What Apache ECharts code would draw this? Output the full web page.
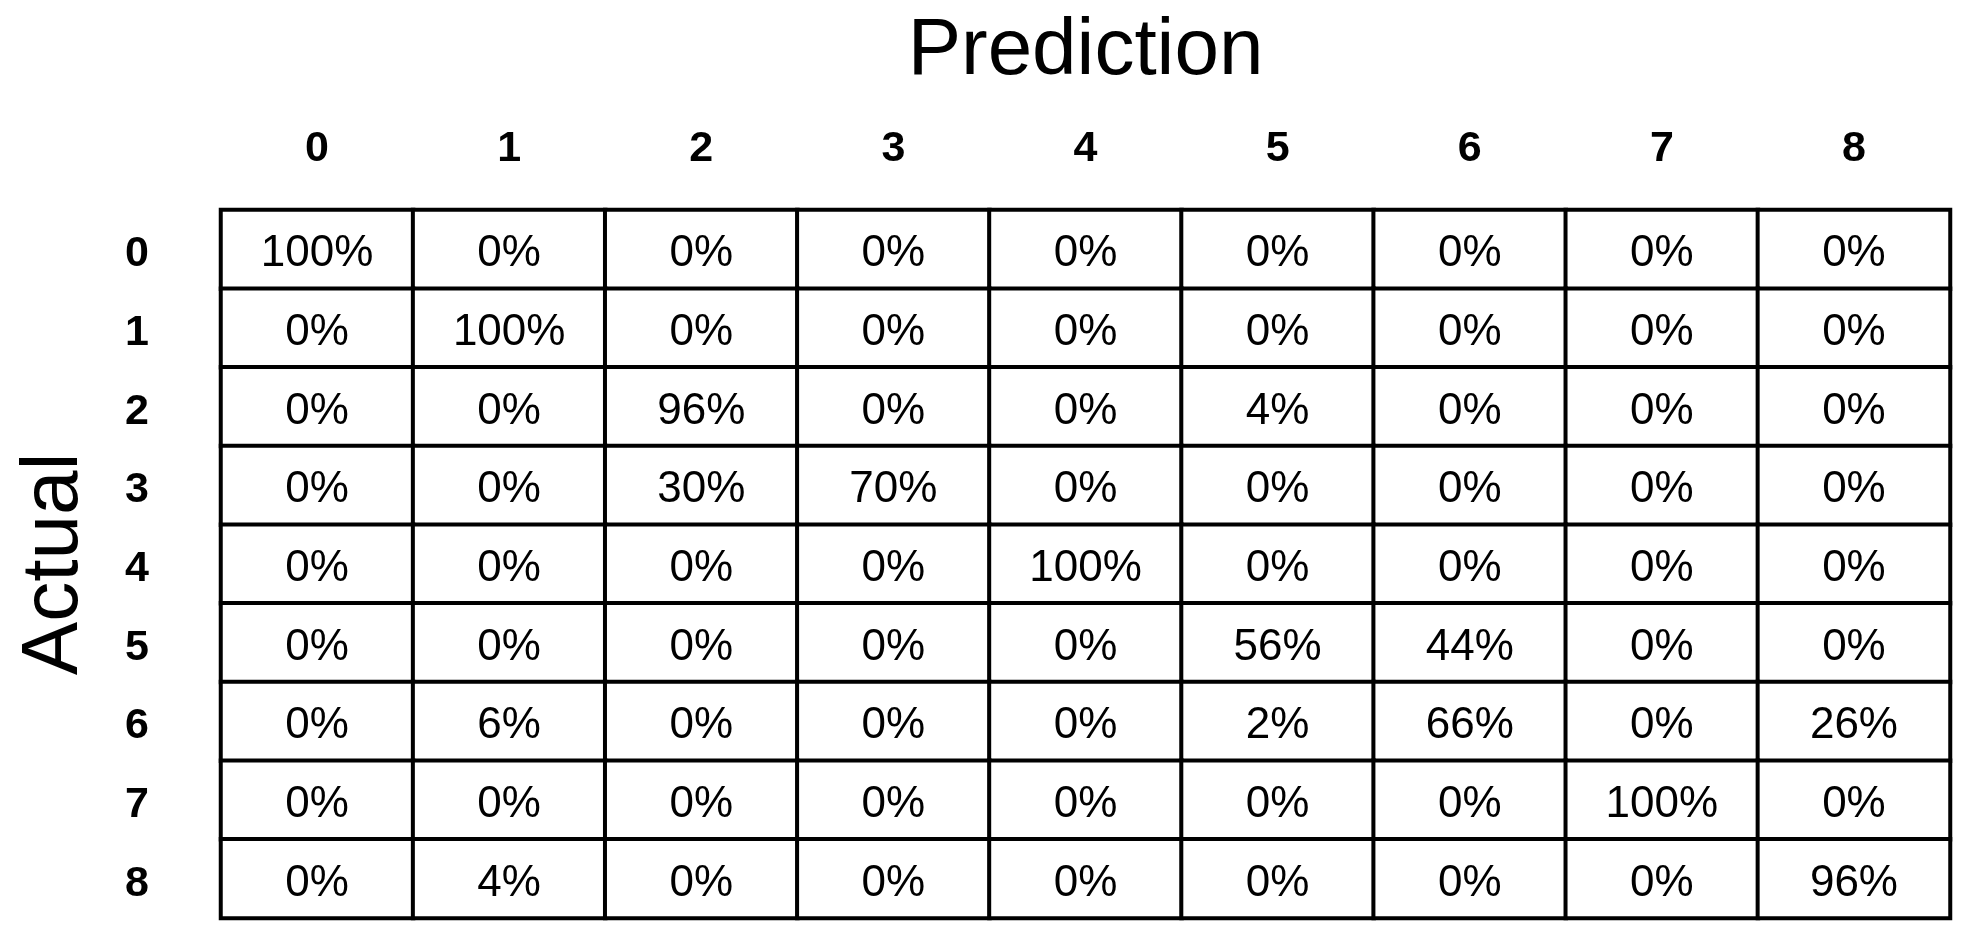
<!DOCTYPE html>
<html>
<head>
  <meta charset="utf-8">
  <title>Confusion matrix</title>
  <script src="https://cdn.jsdelivr.net/npm/echarts@6/dist/echarts.min.js"></script>
</head>
<body style="margin:0;background:#fff;">
<div id="main" style="width:1970px;height:942px;"></div>
<script type="text/javascript">
  // class labels
  var predicted = ['0', '1', '2', '3', '4', '5', '6', '7', '8'];
  var actual = ['0', '1', '2', '3', '4', '5', '6', '7', '8'];

  // percentages per actual class (row), one value per predicted class
  var row0 = [100, 0, 0, 0, 0, 0, 0, 0, 0];
  var row1 = [0, 100, 0, 0, 0, 0, 0, 0, 0];
  var row2 = [0, 0, 96, 0, 0, 4, 0, 0, 0];
  var row3 = [0, 0, 30, 70, 0, 0, 0, 0, 0];
  var row4 = [0, 0, 0, 0, 100, 0, 0, 0, 0];
  var row5 = [0, 0, 0, 0, 0, 56, 44, 0, 0];
  var row6 = [0, 6, 0, 0, 0, 2, 66, 0, 26];
  var row7 = [0, 0, 0, 0, 0, 0, 0, 100, 0];
  var row8 = [0, 4, 0, 0, 0, 0, 0, 0, 96];
  var rows = [row0, row1, row2, row3, row4, row5, row6, row7, row8];

  var cells = [];
  rows.forEach(function (r, y) {
    r.forEach(function (v, x) {
      cells.push([x, y, v]);
    });
  });

  var font = 'Liberation Sans';
  var myChart = echarts.init(document.getElementById('main'));

  var option = {
    backgroundColor: '#fff',
    animation: false,
    grid: { left: 221, right: 20, top: 210, bottom: 24 },
    xAxis: {
      type: 'category',
      position: 'top',
      data: predicted,
      name: 'Prediction',
      nameLocation: 'middle',
      nameGap: 118,
      nameTextStyle: { fontFamily: font, fontSize: 80, color: '#000' },
      axisLine: { show: false },
      axisTick: { show: false },
      splitLine: { show: false },
      axisLabel: { fontFamily: font, fontSize: 43, fontWeight: 'bold', color: '#000', margin: 39 }
    },
    yAxis: {
      type: 'category',
      inverse: true,
      data: actual,
      name: 'Actual',
      nameLocation: 'middle',
      nameGap: 126,
      nameRotate: 90,
      nameTextStyle: { fontFamily: font, fontSize: 80, color: '#000' },
      axisLine: { show: false },
      axisTick: { show: false },
      splitLine: { show: false },
      axisLabel: {
        fontFamily: font, fontSize: 43, fontWeight: 'bold', color: '#000',
        margin: 72, verticalAlign: 'top', lineHeight: 10
      }
    },
    visualMap: {
      show: false,
      min: 0,
      max: 100,
      inRange: { color: ['#ffffff', '#ffffff'] }
    },
    series: [
      {
        type: 'heatmap',
        data: cells,
        itemStyle: { borderColor: '#000', borderWidth: 4 },
        label: {
          show: true,
          fontFamily: font,
          fontSize: 44,
          color: '#000',
          offset: [0, 5],
          formatter: function (p) { return p.value[2] + '%'; }
        },
        emphasis: { disabled: true }
      }
    ]
  };

  myChart.setOption(option);
</script>
</body>
</html>
